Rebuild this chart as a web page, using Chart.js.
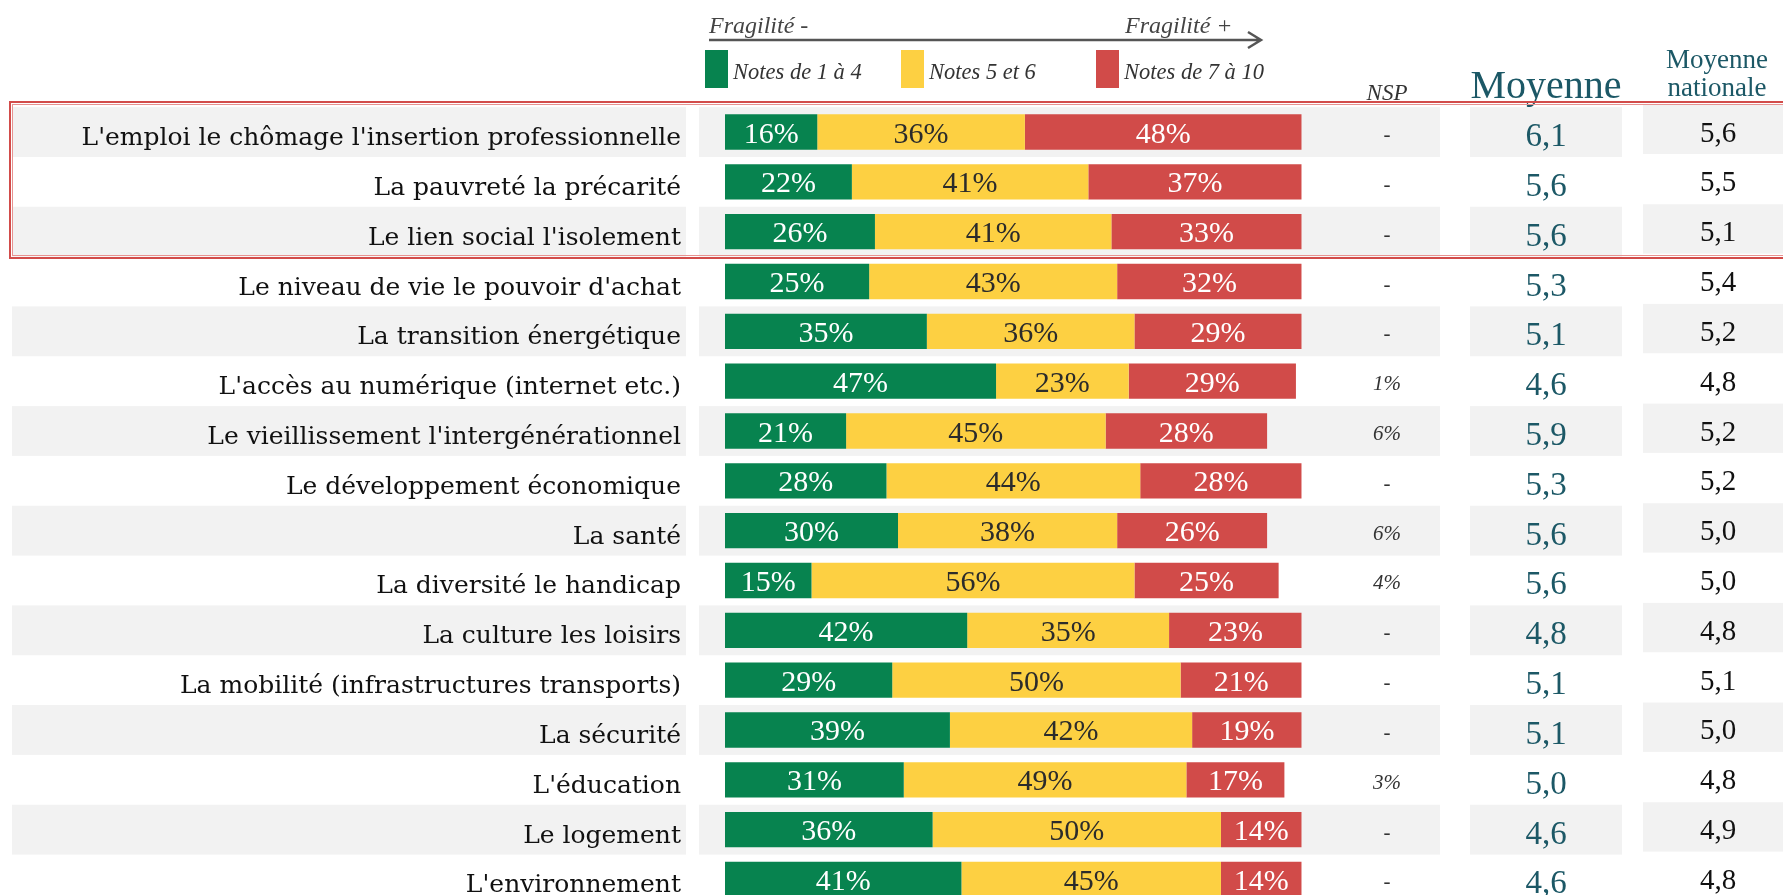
<!DOCTYPE html>
<html lang="fr">
<head>
<meta charset="utf-8">
<title>Fragilité par thème</title>
<script src="https://cdn.jsdelivr.net/npm/chart.js@4.4.1/dist/chart.umd.min.js"></script>
<style>
  html, body { margin: 0; padding: 0; background: #fff; overflow: hidden; }
  canvas { display: block; }
</style>
</head>
<body>
<canvas id="fragilite" width="1783" height="910"></canvas>
<script>
// Thèmes (lignes du tableau)
const categories = [
    "L'emploi le chômage l'insertion professionnelle",
    "La pauvreté la précarité",
    "Le lien social l'isolement",
    "Le niveau de vie le pouvoir d'achat",
    "La transition énergétique",
    "L'accès au numérique (internet etc.)",
    "Le vieillissement l'intergénérationnel",
    "Le développement économique",
    "La santé",
    "La diversité le handicap",
    "La culture les loisirs",
    "La mobilité (infrastructures transports)",
    "La sécurité",
    "L'éducation",
    "Le logement",
    "L'environnement"
];

// Répartition des notes (%)
const notes1a4  = [16, 22, 26, 25, 35, 47, 21, 28, 30, 15, 42, 29, 39, 31, 36, 41];
const notes5et6 = [36, 41, 41, 43, 36, 23, 45, 44, 38, 56, 35, 50, 42, 49, 50, 45];
const notes7a10 = [48, 37, 33, 32, 29, 29, 28, 28, 26, 25, 23, 21, 19, 17, 14, 14];
const nsp       = [null, null, null, null, null, 1, 6, null, 6, 4, null, null, null, 3, null, null];

// Moyennes
const moyenne          = [6.1, 5.6, 5.6, 5.3, 5.1, 4.6, 5.9, 5.3, 5.6, 5.6, 4.8, 5.1, 5.1, 5.0, 4.6, 4.6];
const moyenneNationale = [5.6, 5.5, 5.1, 5.4, 5.2, 4.8, 5.2, 5.2, 5.0, 5.0, 4.8, 5.1, 5.0, 4.8, 4.9, 4.8];

const seriesNames = ['Notes de 1 à 4', 'Notes 5 et 6', 'Notes de 7 à 10'];

const VERT = '#07834f';
const JAUNE = '#fdd042';
const ROUGE = '#d14b49';
const TEAL = '#1c5866';
const GRIS = '#f2f2f2';

const SERIF = '"Liberation Serif", "Times New Roman", serif';
const SERIF_LARGE = '"DejaVu Serif", serif';

function virgule(v) {
    return v.toFixed(1).replace('.', ',');
}

// Tableau autour du graphique : bandes, libellés, colonnes, légende
const tableau = {
    id: 'tableau',
    beforeDatasetsDraw(chart) {
        const { ctx } = chart;
        const y = chart.scales.y;
        const pas = y.height / categories.length;
        ctx.save();
        ctx.fillStyle = GRIS;
        categories.forEach((c, i) => {
            if (i % 2) return;
            const top = y.getPixelForValue(i) - pas / 2;
            ctx.fillRect(12, top, 674, pas);
            ctx.fillRect(699, top, 741, pas);
            ctx.fillRect(1470, top, 152, pas);
            ctx.fillRect(1643, top - 2.5, 140, pas - 0.5);
        });
        ctx.restore();
    },
    afterDatasetsDraw(chart) {
        const { ctx } = chart;
        const y = chart.scales.y;
        ctx.save();

        // valeurs dans les barres
        ctx.textAlign = 'center';
        ctx.textBaseline = 'alphabetic';
        ctx.font = `30px ${SERIF}`;
        chart.data.datasets.forEach((ds, d) => {
            const meta = chart.getDatasetMeta(d);
            meta.data.forEach((bar, i) => {
                const v = ds.data[i];
                if (!v) return;
                const { x, base, y: yc } = bar.getProps(['x', 'base', 'y'], true);
                ctx.fillStyle = d === 1 ? '#2b2b2b' : '#ffffff';
                ctx.fillText(v + '%', (x + base) / 2, yc + 10.5);
            });
        });

        categories.forEach((c, i) => {
            const yc = y.getPixelForValue(i);

            // libellé
            ctx.textAlign = 'right';
            ctx.fillStyle = '#111';
            ctx.font = `25px ${SERIF_LARGE}`;
            ctx.fillText(c, 681, yc + 13);

            // NSP
            ctx.textAlign = 'center';
            ctx.fillStyle = '#333';
            ctx.font = `italic 21px ${SERIF}`;
            ctx.fillText(nsp[i] == null ? '-' : nsp[i] + '%', 1387, yc + 9);

            // Moyenne
            ctx.fillStyle = TEAL;
            ctx.font = `33px ${SERIF}`;
            ctx.fillText(virgule(moyenne[i]), 1546, yc + 14);

            // Moyenne nationale
            ctx.fillStyle = '#111';
            ctx.font = `29px ${SERIF}`;
            ctx.fillText(virgule(moyenneNationale[i]), 1718, yc + 9.5);
        });
        ctx.restore();
    },
    afterDraw(chart) {
        const { ctx } = chart;
        ctx.save();

        // en-têtes des colonnes
        ctx.textAlign = 'center';
        ctx.textBaseline = 'alphabetic';
        ctx.fillStyle = '#333';
        ctx.font = `italic 23px ${SERIF}`;
        ctx.fillText('NSP', 1387, 100);
        ctx.fillStyle = TEAL;
        ctx.font = `40px ${SERIF}`;
        ctx.fillText('Moyenne', 1546, 98);
        ctx.font = `27px ${SERIF}`;
        ctx.fillText('Moyenne', 1717, 68);
        ctx.fillText('nationale', 1717, 96);

        // flèche de fragilité
        ctx.strokeStyle = '#555';
        ctx.lineWidth = 2.5;
        ctx.beginPath();
        ctx.moveTo(709, 40);
        ctx.lineTo(1261, 40);
        ctx.moveTo(1248, 32);
        ctx.lineTo(1261, 40);
        ctx.lineTo(1248, 48);
        ctx.stroke();
        ctx.textAlign = 'left';
        ctx.fillStyle = '#444';
        ctx.font = `italic 24px ${SERIF}`;
        ctx.fillText('Fragilité -', 709, 33);
        ctx.fillText('Fragilité +', 1125, 33);

        // légende
        const legende = [[705, VERT], [901, JAUNE], [1096, ROUGE]];
        ctx.font = `italic 22.5px ${SERIF}`;
        legende.forEach(([x, col], k) => {
            ctx.fillStyle = col;
            ctx.fillRect(x, 50, 23, 38);
            ctx.fillStyle = '#333';
            ctx.fillText(seriesNames[k], x + 28, 79);
        });

        // encadré des trois premiers thèmes
        ctx.strokeStyle = '#d24c4a';
        ctx.lineWidth = 2;
        ctx.strokeRect(10, 102, 1800, 156);
        ctx.strokeStyle = '#e89290';
        ctx.lineWidth = 1;
        ctx.strokeRect(12.5, 104.5, 1800, 151);
        ctx.restore();
    }
};

new Chart(document.getElementById('fragilite'), {
    type: 'bar',
    data: {
        labels: categories,
        datasets: [
            { label: seriesNames[0], data: notes1a4, backgroundColor: VERT },
            { label: seriesNames[1], data: notes5et6, backgroundColor: JAUNE },
            { label: seriesNames[2], data: notes7a10, backgroundColor: ROUGE }
        ]
    },
    options: {
        indexAxis: 'y',
        responsive: false,
        devicePixelRatio: 1,
        animation: false,
        barPercentage: 0.71,
        categoryPercentage: 1,
        layout: { padding: { left: 725, right: 481.3, top: 107.1, bottom: 5.6 } },
        scales: {
            x: { stacked: true, min: 0, max: 100, display: false },
            y: { stacked: true, display: false }
        },
        plugins: {
            legend: { display: false },
            tooltip: { enabled: false }
        }
    },
    plugins: [tableau]
});
</script>
</body>
</html>
